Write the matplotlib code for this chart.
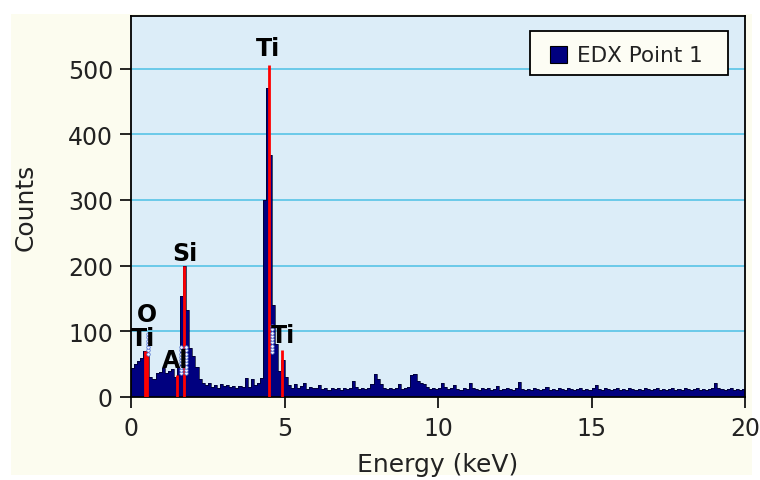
import numpy as np
import matplotlib.pyplot as plt
from matplotlib.patches import Rectangle

# spectrum, 0.1 keV bins from 0 to 20 keV
energy_edges = np.round(np.arange(0, 201) * 0.1, 1)
counts = [
    44, 50, 55, 60, 70, 62, 30, 28, 37, 38,       # 0-1 keV
    44, 36, 40, 42, 30, 45, 153, 199, 132, 74,    # 1-2
    62, 45, 28, 22, 18, 22, 15, 18, 14, 20,       # 2-3
    16, 18, 15, 17, 14, 16, 15, 29, 15, 27,       # 3-4
    18, 22, 29, 300, 471, 368, 140, 80, 39, 57,   # 4-5
    30, 18, 14, 20, 13, 16, 22, 12, 15, 14,       # 5-6
    13, 18, 12, 14, 11, 13, 12, 14, 11, 13,       # 6-7
    12, 14, 24, 15, 12, 13, 12, 14, 20, 35,       # 7-8
    28, 20, 13, 12, 14, 12, 13, 20, 12, 13,       # 8-9
    15, 33, 35, 25, 22, 20, 15, 12, 13, 12,       # 9-10
    14, 22, 15, 12, 13, 18, 12, 11, 13, 12,       # 10-11
    22, 13, 12, 10, 14, 12, 13, 10, 12, 16,       # 11-12
    10, 12, 13, 12, 10, 13, 23, 12, 10, 12,       # 12-13
    10, 13, 12, 10, 12, 15, 10, 12, 10, 13,       # 13-14
    12, 10, 13, 12, 10, 12, 13, 10, 12, 10,       # 14-15
    13, 18, 12, 10, 14, 12, 10, 12, 13, 10,       # 15-16
    12, 10, 13, 12, 10, 12, 10, 13, 12, 10,       # 16-17
    12, 13, 10, 12, 10, 12, 13, 10, 12, 10,       # 17-18
    13, 12, 10, 12, 13, 10, 12, 10, 12, 14,       # 18-19
    21, 13, 12, 10, 12, 13, 10, 12, 10, 12,       # 19-20
]

# element markers
element_names = ["Ti", "O", "Al", "Si", "Ti", "Ti"]
element_energy = [0.45, 0.525, 1.49, 1.74, 4.51, 4.93]
element_height = [70, 70, 34, 199, 505, 72]

y_ticks = [0, 100, 200, 300, 400, 500]
x_ticks = [0, 5, 10, 15, 20]
series_name = 'EDX Point 1'

plt.rcParams['font.family'] = ['DejaVu Sans']

W, H = 760, 481
fig = plt.figure(figsize=(W / 100, H / 100), dpi=100)
fig.patch.set_facecolor('white')


def px_rect(x0, y0, x1, y1, **kw):
    # rectangle in figure pixels, y measured from the top
    return Rectangle((x0 / W, 1 - y1 / H), (x1 - x0) / W, (y1 - y0) / H,
                     transform=fig.transFigure, **kw)


fig.add_artist(px_rect(11, 15, 752, 476, facecolor='#fcfcef', edgecolor='none', zorder=-10))

ax = fig.add_axes([131 / W, 83 / H, 614 / W, 381 / H])
ax.set_facecolor('#dcedf8')
ax.set_xlim(0, 20)
ax.set_ylim(0, 580)

ax.yaxis.grid(True, color='#62c7e8', linewidth=1.3)
ax.set_axisbelow(True)

ax.stairs(counts, energy_edges, fill=True, color='#00007f', zorder=2)
ax.stairs(counts, energy_edges, color='#000022', linewidth=0.5, zorder=2)

ax.vlines(element_energy, 0, element_height, color='red', linewidth=2, zorder=3)

# label offsets so the stacked labels at low energy don't collide
label_dx = [-0.05, -0.02, -0.05, 0.02, -0.05, 0.02]
label_dy = [2, 38, 4, 2, 8, 4]
for name, e, h, dx, dy in zip(element_names, element_energy, element_height, label_dx, label_dy):
    ax.text(e + dx, h + dy, name, ha='center', va='bottom', fontsize=17,
            fontweight='bold', zorder=4)

# dotted hit-area marks where labels overlap the peaks
for e, lo, hi in [(0.55, 66, 98), (1.62, 36, 78), (1.8, 36, 78), (4.58, 68, 112)]:
    ys = np.arange(lo, hi, 5)
    ax.plot([e] * len(ys), ys, linestyle='none', marker='o', markersize=2.5,
            markerfacecolor='#f4f4ff', markeredgecolor='#4466cc',
            markeredgewidth=0.5, zorder=3)

ax.set_xticks(x_ticks)
ax.set_yticks(y_ticks)
ax.tick_params(direction='out', length=8, width=1.2, labelsize=17,
               colors='black', labelcolor='#222222')
ax.tick_params(axis='x', pad=6)
ax.tick_params(axis='y', pad=5)
for s in ax.spines.values():
    s.set_color('black')
    s.set_linewidth(1.3)

ax.set_xlabel('Energy (keV)', fontsize=18, color='#222222', labelpad=8)
ax.set_ylabel('Counts', fontsize=18, color='#222222', labelpad=22)

# legend box drawn by hand to get the wide left/right padding of the original
fig.add_artist(px_rect(530, 32, 728, 76, facecolor='#fdfdf4', edgecolor='black',
                       linewidth=1.3, zorder=5))
fig.add_artist(px_rect(550, 47, 567, 64, facecolor='#00007f', edgecolor='black',
                       linewidth=0.8, zorder=6))
fig.text(577 / W, 1 - 55.5 / H, series_name, fontsize=15.5, color='#222222',
         va='center', ha='left', zorder=6)

fig.savefig('out.png', dpi=100, facecolor=fig.get_facecolor())
